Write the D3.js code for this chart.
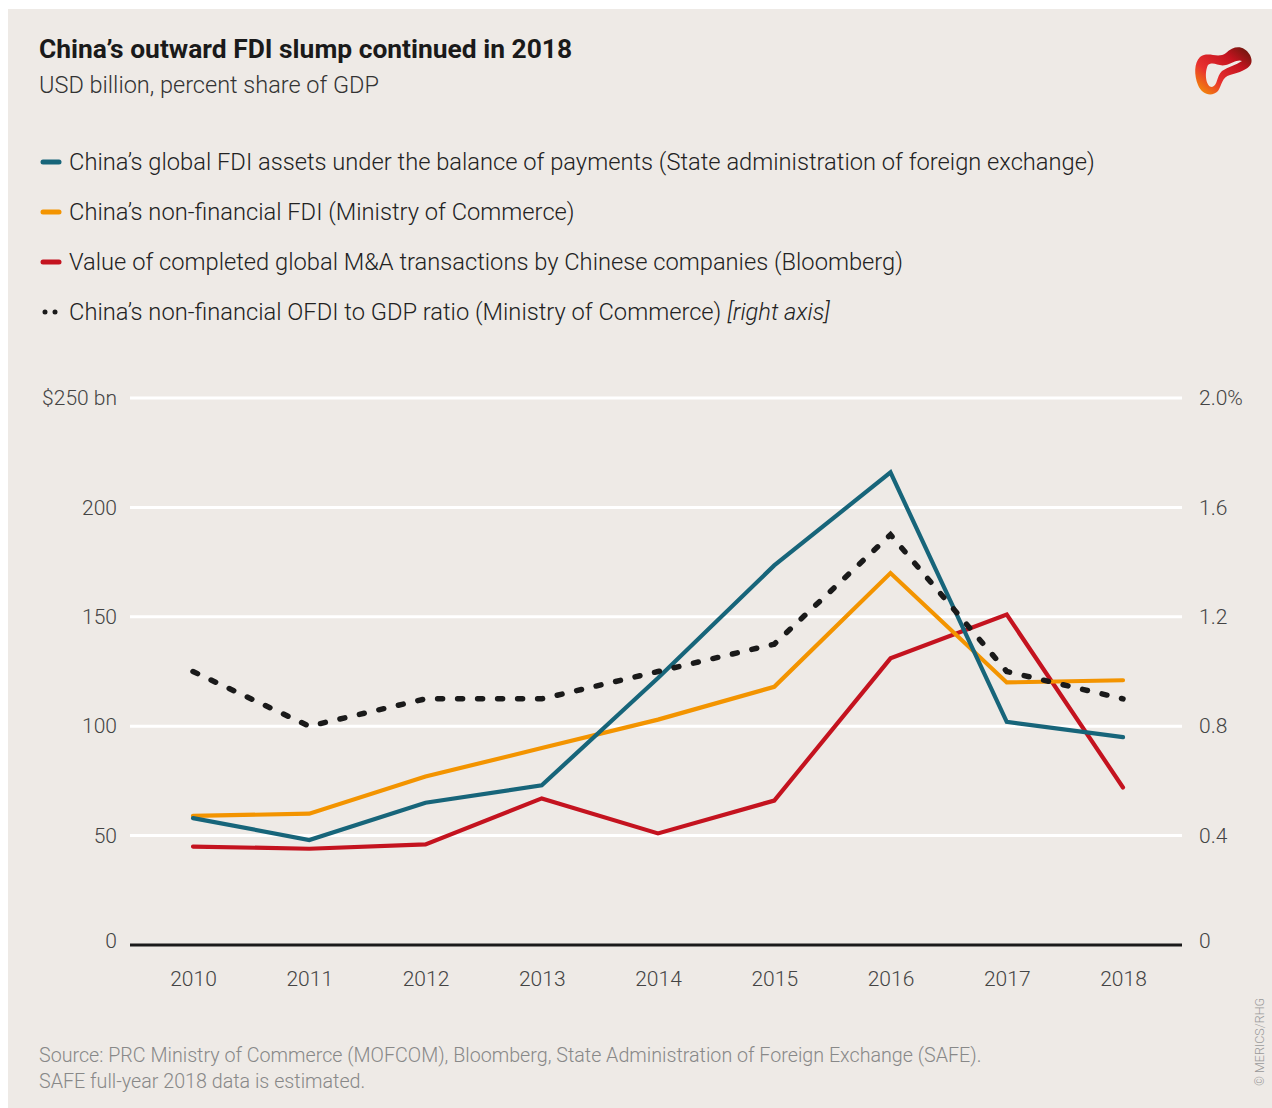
<!doctype html>
<html>
    <head>
        <title>China's outward FDI slump</title>
        <style>
            body {
                margin: 0;
                overflow: hidden;
                background: #fff;
            }
            text {
                font-family: Roboto, 'Noto Sans', sans-serif;
            }
        </style>
    </head>
    <body>
        <script src="https://cdn.jsdelivr.net/npm/d3@7"></script>
        <script>

            const years = [2010, 2011, 2012, 2013, 2014, 2015, 2016, 2017, 2018];
            const safeAssets = [58, 48, 65, 73, 122, 173.5, 216, 102, 95];
            const mofcomFdi = [59, 60, 77, 90, 103, 118, 170, 120, 121];
            const bloombergMA = [45, 44, 46, 67, 51, 66, 131, 151, 72];
            const ofdiGdpRatio = [1.0, 0.8, 0.9, 0.9, 1.0, 1.1, 1.5, 1.0, 0.9];

            const leftTicks = [0, 50, 100, 150, 200, 250];
            const rightTicks = [0, 0.4, 0.8, 1.2, 1.6, 2.0];

            const legendItems = [
                { label: 'China’s global FDI assets under the balance of payments (State administration of foreign exchange)', color: '#17657a', dotted: false },
                { label: 'China’s non-financial FDI (Ministry of Commerce)', color: '#f39400', dotted: false },
                { label: 'Value of completed global M&A transactions by Chinese companies (Bloomberg)', color: '#c4131f', dotted: false },
                { label: 'China’s non-financial OFDI to GDP ratio (Ministry of Commerce) ', italic: '[right axis]', color: '#1a1a1a', dotted: true }
            ];

            const width = 1272;
            const height = 1108;

            const svg = d3.select('body')
                .append('svg')
                .attr('width', width)
                .attr('height', height);

            // panel
            svg.append('rect')
                .attr('x', 8).attr('y', 9)
                .attr('width', width - 8).attr('height', height - 9)
                .attr('fill', '#eeeae6');

            // logo
            const defs = svg.append('defs');
            const grad = defs.append('linearGradient')
                .attr('id', 'logoGrad')
                .attr('x1', '0').attr('y1', '1').attr('x2', '1').attr('y2', '0');
            grad.append('stop').attr('offset', '0%').attr('stop-color', '#f5a000');
            grad.append('stop').attr('offset', '35%').attr('stop-color', '#e8302f');
            grad.append('stop').attr('offset', '70%').attr('stop-color', '#c4131f');
            grad.append('stop').attr('offset', '100%').attr('stop-color', '#5a1a0a');
            const logo = svg.append('g').attr('transform', 'translate(1196,45)');
            logo.append('path')
                .attr('d', 'M4,12 C12,6 22,14 30,8 C38,0 48,0 54,10 C60,22 48,26 34,30 C26,32 26,40 22,46 C16,52 6,50 2,40 C-2,30 -2,18 4,12 Z')
                .attr('fill', 'url(#logoGrad)');
            logo.append('path')
                .attr('d', 'M12,20 C18,16 22,22 30,20 C36,18 42,14 46,16 C40,20 32,22 26,26 C20,32 22,40 16,42 C10,42 8,28 12,20 Z')
                .attr('fill', '#eeeae6');

            // title + subtitle
            svg.append('text')
                .attr('x', 39).attr('y', 58)
                .attr('font-size', 26.4).attr('font-weight', 700)
                .attr('fill', '#1a1a1a')
                .text('China’s outward FDI slump continued in 2018');
            svg.append('text')
                .attr('x', 39).attr('y', 93)
                .attr('font-size', 23.5).attr('font-weight', 300)
                .attr('fill', '#333')
                .text('USD billion, percent share of GDP');

            // legend
            const legend = svg.append('g');
            legendItems.forEach((d, i) => {
                const cy = 162 + i * 50;
                if (d.dotted) {
                    legend.append('line')
                        .attr('x1', 45).attr('x2', 59).attr('y1', cy).attr('y2', cy)
                        .attr('stroke', d.color).attr('stroke-width', 5)
                        .attr('stroke-linecap', 'round')
                        .attr('stroke-dasharray', '0.01,10');
                } else {
                    legend.append('line')
                        .attr('x1', 43).attr('x2', 59).attr('y1', cy).attr('y2', cy)
                        .attr('stroke', d.color).attr('stroke-width', 5)
                        .attr('stroke-linecap', 'round');
                }
                const t = legend.append('text')
                    .attr('x', 69).attr('y', cy + 8)
                    .attr('font-size', 23.7).attr('font-weight', 300)
                    .attr('fill', '#222');
                t.append('tspan').text(d.label);
                if (d.italic) t.append('tspan').attr('font-style', 'italic').text(d.italic);
            });

            // scales
            const x = d3.scalePoint().domain(years).range([193, 1123]);
            const y = d3.scaleLinear().domain([0, 250]).range([945, 398]);
            const yRight = d3.scaleLinear().domain([0, 2.0]).range([945, 398]);

            // gridlines
            svg.append('g')
                .selectAll('line')
                .data(leftTicks.filter(d => d > 0))
                .join('line')
                .attr('x1', 130).attr('x2', 1182)
                .attr('y1', d => y(d)).attr('y2', d => y(d))
                .attr('stroke', '#fff').attr('stroke-width', 3);

            // left axis
            const leftAxis = svg.append('g')
                .attr('transform', 'translate(117,0)')
                .call(d3.axisLeft(y).tickValues(leftTicks).tickSize(0)
                    .tickFormat(d => d === 250 ? '$250 bn' : d));
            leftAxis.select('.domain').remove();
            leftAxis.selectAll('text')
                .attr('x', 0).attr('dy', '0.32em')
                .attr('font-size', 21).attr('font-weight', 300)
                .attr('font-family', 'Roboto').attr('fill', '#444');
            leftAxis.selectAll('.tick').filter(d => d === 0).select('text').attr('dy', '0.1em');

            // right axis
            const rightAxis = svg.append('g')
                .attr('transform', 'translate(1199,0)')
                .call(d3.axisRight(yRight).tickValues(rightTicks).tickSize(0)
                    .tickFormat(d => d === 0 ? '0' : d === 2 ? '2.0%' : d3.format('.1f')(d)));
            rightAxis.select('.domain').remove();
            rightAxis.selectAll('text')
                .attr('x', 0).attr('dy', '0.32em')
                .attr('font-size', 21).attr('font-weight', 300)
                .attr('font-family', 'Roboto').attr('fill', '#444');
            rightAxis.selectAll('.tick').filter(d => d === 0).select('text').attr('dy', '0.1em');

            // bottom axis
            const bottomAxis = svg.append('g')
                .attr('transform', 'translate(0,945)')
                .call(d3.axisBottom(x).tickSize(0).tickPadding(41));
            bottomAxis.select('.domain').remove();
            bottomAxis.selectAll('text')
                .attr('dy', '0em')
                .attr('font-size', 21).attr('font-weight', 300)
                .attr('font-family', 'Roboto').attr('fill', '#444');

            // series
            const line = d3.line()
                .x(d => x(d[0]))
                .y(d => d[1]);

            const series = [
                { values: bloombergMA, color: '#c4131f', scale: y },
                { values: mofcomFdi, color: '#f39400', scale: y },
                { values: safeAssets, color: '#17657a', scale: y }
            ];

            series.forEach(s => {
                svg.append('path')
                    .datum(years.map((yr, i) => [yr, s.scale(s.values[i])]))
                    .attr('d', line)
                    .attr('fill', 'none')
                    .attr('stroke', s.color)
                    .attr('stroke-width', 4.2)
                    .attr('stroke-linecap', 'round')
                    .attr('stroke-linejoin', 'miter');
            });

            svg.append('path')
                .datum(years.map((yr, i) => [yr, yRight(ofdiGdpRatio[i])]))
                .attr('d', line)
                .attr('fill', 'none')
                .attr('stroke', '#1a1a1a')
                .attr('stroke-width', 5.5)
                .attr('stroke-linecap', 'round')
                .attr('stroke-dasharray', '5,15');

            // zero line
            svg.append('line')
                .attr('x1', 130).attr('x2', 1182)
                .attr('y1', y(0)).attr('y2', y(0))
                .attr('stroke', '#1a1a1a').attr('stroke-width', 3);

            // source
            const source = svg.append('text')
                .attr('x', 39).attr('y', 1062)
                .attr('font-size', 19.7).attr('font-weight', 300)
                .attr('fill', '#888');
            source.append('tspan').text('Source: PRC Ministry of Commerce (MOFCOM), Bloomberg, State Administration of Foreign Exchange (SAFE).');
            source.append('tspan').attr('x', 39).attr('dy', 26).text('SAFE full-year 2018 data is estimated.');

            svg.append('text')
                .attr('transform', 'translate(1264,1086) rotate(-90)')
                .attr('font-size', 12.5).attr('font-weight', 300)
                .attr('fill', '#999')
                .text('© MERICS/RHG');

        </script>
    </body>
</html>
